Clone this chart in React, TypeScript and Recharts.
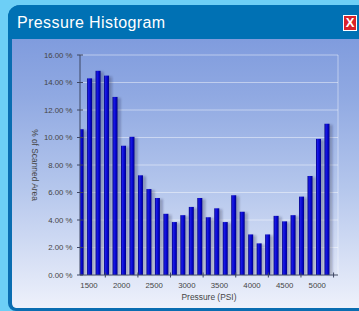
import React from "react";
import { BarChart, Bar, XAxis, YAxis, CartesianGrid } from "recharts";

// ---- data ----
const BIN_CENTERS = [
  1375, 1505, 1635, 1765, 1895, 2025, 2155, 2285, 2415, 2545,
  2675, 2805, 2935, 3065, 3195, 3325, 3455, 3585, 3715, 3845,
  3975, 4105, 4235, 4365, 4495, 4625, 4755, 4885, 5015, 5145,
];
const PERCENT_AREA = [
  10.6, 14.3, 14.85, 14.5, 12.95, 9.4, 10.05, 7.25, 6.25, 5.6,
  4.45, 3.85, 4.35, 4.95, 5.6, 4.2, 4.85, 3.85, 5.8, 4.6,
  2.95, 2.3, 2.95, 4.3, 3.9, 4.35, 5.7, 7.2, 9.9, 11.0,
];
const X_TICKS = [1500, 2000, 2500, 3000, 3500, 4000, 4500, 5000];
const Y_TICKS = [0, 2, 4, 6, 8, 10, 12, 14, 16];
const X_DOMAIN: [number, number] = [1362, 5318];
const Y_DOMAIN: [number, number] = [0, 16];
const TITLE = "Pressure Histogram";
const X_LABEL = "Pressure (PSI)";
const Y_LABEL = "% of Scanned Area";

const data = BIN_CENTERS.map((p, i) => ({ p, v: PERCENT_AREA[i] }));

// ---- layout ----
const W = 359;
const H = 311;
const Y_AXIS_W = 80;
const M_RIGHT = 21;
const M_TOP = 55;
const X_AXIS_H = 36;
const PLOT_W = W - Y_AXIS_W - M_RIGHT;
const HALF_STEP_PX = (250 * PLOT_W) / (X_DOMAIN[1] - X_DOMAIN[0]);
const FONT = "'Liberation Sans', Arial, Helvetica, sans-serif";
const TXT = "#454545";
const AXIS = "#3d4663";

const XTick = (props: any) => {
  const { x, y, payload } = props;
  return (
    <g>
      <text x={x} y={y} dy={12.8} textAnchor="middle" fontSize={7.8} fill={TXT} fontFamily={FONT}>
        {payload.value}
      </text>
      <line x1={x + HALF_STEP_PX} x2={x + HALF_STEP_PX} y1={y - 2.5} y2={y + 2.5} stroke={AXIS} strokeWidth={1} />
    </g>
  );
};

const YTick = (props: any) => {
  const { x, y, payload } = props;
  return (
    <g>
      <line x1={x - 3} x2={x + 3} y1={y} y2={y} stroke={AXIS} strokeWidth={1} />
      <text x={x - 7.5} y={y} dy={2.8} textAnchor="end" fontSize={7.8} fill={TXT} fontFamily={FONT}>
        {`${payload.value.toFixed(2)} %`}
      </text>
    </g>
  );
};

const BarShape = (props: any) => {
  const { x, y, width, height } = props;
  if (!height || height <= 0) return null;
  return (
    <g>
      <rect x={x + 1.5} y={y + 1} width={width + 1.5} height={height - 1} fill="rgba(20,20,60,0.28)" filter="url(#barShadow)" />
      <rect x={x} y={y} width={width} height={height} fill="url(#barGrad)" />
    </g>
  );
};

export default function App() {
  return (
    <div
      style={{
        position: "absolute",
        left: 0,
        top: 0,
        width: W,
        height: H,
        background: "#6dcff6",
        overflow: "hidden",
        fontFamily: FONT,
      }}
    >
      {/* panel */}
      <div
        style={{
          position: "absolute",
          left: 8,
          top: 5,
          width: W - 8 + 12,
          height: H - 5,
          background: "linear-gradient(to bottom, #7694db 0%, #90a9e2 30%, #b4c6ec 60%, #eef1fb 100%)",
          borderLeft: "4px solid #0a6db1",
          borderBottom: "3px solid #0a6db1",
          borderTopLeftRadius: 12,
          borderBottomLeftRadius: 8,
          boxSizing: "border-box",
        }}
      />
      {/* title bar */}
      <div
        style={{
          position: "absolute",
          left: 8,
          top: 5,
          width: W - 8 + 12,
          height: 34,
          background: "#0071b4",
          borderTopLeftRadius: 12,
          borderTopRightRadius: 12,
        }}
      />
      <div
        style={{
          position: "absolute",
          left: 17,
          top: 13,
          color: "#ffffff",
          fontSize: 16,
          letterSpacing: 0.4,
          lineHeight: "20px",
          whiteSpace: "nowrap",
        }}
      >
        {TITLE}
      </div>
      <div
        style={{
          position: "absolute",
          left: 343,
          top: 15,
          width: 14,
          height: 16,
          boxSizing: "border-box",
          background: "#d8222a",
          border: "1px solid #ffffff",
          color: "#ffffff",
          fontSize: 13,
          fontWeight: "bold",
          lineHeight: "14px",
          textAlign: "center",
        }}
      >
        X
      </div>
      {/* y label */}
      <div
        style={{
          position: "absolute",
          left: 35,
          top: 165,
          transform: "translate(-50%, -50%) rotate(90deg)",
          fontSize: 8.4,
          color: TXT,
          whiteSpace: "nowrap",
        }}
      >
        {Y_LABEL}
      </div>
      <div style={{ position: "absolute", left: 0, top: 0 }}>
        <BarChart
          width={W}
          height={H}
          data={data}
          margin={{ top: M_TOP, right: M_RIGHT, bottom: 0, left: 0 }}
        >
          <defs>
            <linearGradient id="barGrad" x1="0" y1="0" x2="1" y2="0">
              <stop offset="0%" stopColor="#00007e" />
              <stop offset="30%" stopColor="#1a1ae6" />
              <stop offset="65%" stopColor="#0505cc" />
              <stop offset="100%" stopColor="#000085" />
            </linearGradient>
            <filter id="barShadow" x="-50%" y="-5%" width="200%" height="110%">
              <feGaussianBlur stdDeviation="1" />
            </filter>
          </defs>
          <CartesianGrid
            stroke="rgba(255,255,255,0.45)"
            horizontal={true}
            vertical={true}
            verticalCoordinatesGenerator={(p: any) => [p.offset.left + p.offset.width]}
          />
          <XAxis
            dataKey="p"
            type="number"
            domain={X_DOMAIN}
            ticks={X_TICKS}
            interval={0}
            allowDataOverflow
            height={X_AXIS_H}
            tickSize={0}
            tickMargin={0}
            tickLine={false}
            tick={<XTick />}
            axisLine={{ stroke: AXIS, strokeWidth: 1 }}
            label={{ value: X_LABEL, position: "insideBottom", offset: 11, fontSize: 8.4, fill: TXT, fontFamily: FONT }}
          />
          <YAxis
            type="number"
            domain={Y_DOMAIN}
            ticks={Y_TICKS}
            interval={0}
            width={Y_AXIS_W}
            tickSize={0}
            tickMargin={0}
            tickLine={false}
            tick={<YTick />}
            axisLine={{ stroke: AXIS, strokeWidth: 1 }}
          />
          <Bar dataKey="v" barSize={5} isAnimationActive={false} shape={<BarShape />} />
        </BarChart>
      </div>
    </div>
  );
}
